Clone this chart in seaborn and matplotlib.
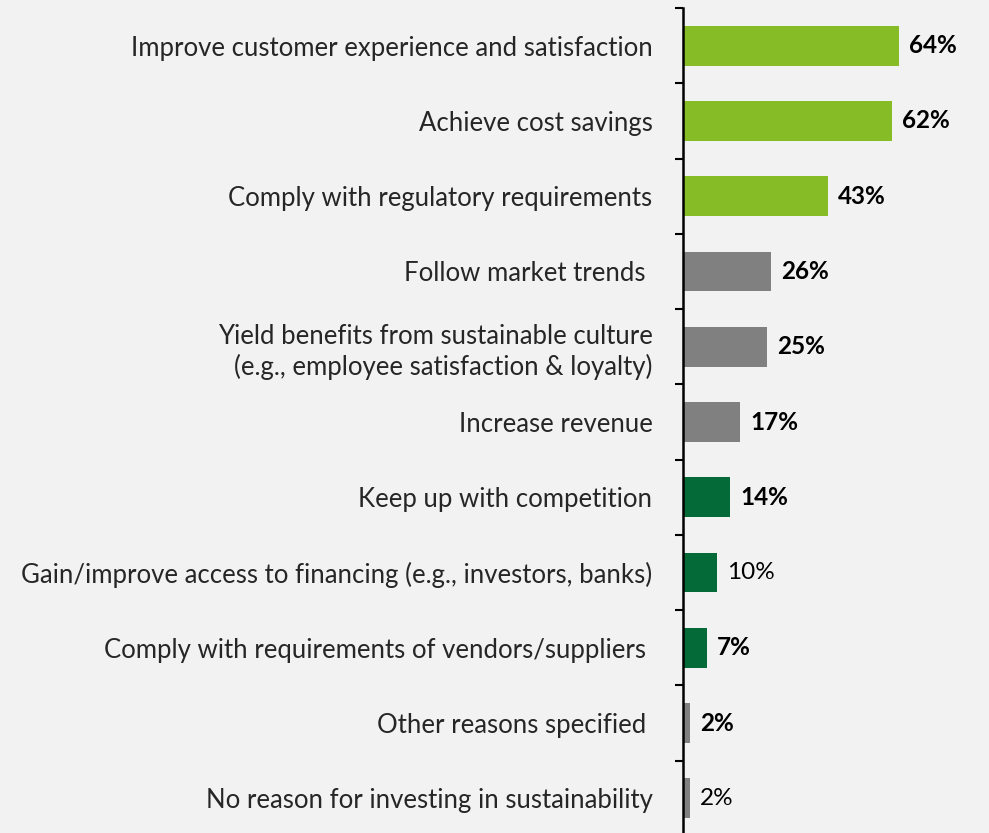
import numpy as np
import pandas as pd
import seaborn as sns
import matplotlib.pyplot as plt

# Data
reasons = [
    "Improve customer experience and satisfaction",
    "Achieve cost savings",
    "Comply with regulatory requirements",
    "Follow market trends ",
    "Yield benefits from sustainable culture\n(e.g., employee satisfaction & loyalty)",
    "Increase revenue",
    "Keep up with competition",
    "Gain/improve access to financing (e.g., investors, banks)",
    "Comply with requirements of vendors/suppliers ",
    "Other reasons specified ",
    "No reason for investing in sustainability",
]
shares = [64, 62, 43, 26, 25, 17, 14, 10, 7, 2, 2]
bold_label = [True, True, True, True, True, True, True, False, True, True, False]

lime, grey, dark = "#86bc25", "#808080", "#046a38"
bar_colors = [lime, lime, lime, grey, grey, grey, dark, dark, dark, grey, grey]

df = pd.DataFrame({"reason": reasons, "share": shares})

sns.set_style("white")
plt.rcParams["font.family"] = ["Lato", "DejaVu Sans"]

fig = plt.figure(figsize=(9.89, 8.33), dpi=100)
fig.patch.set_facecolor("#f2f2f2")
ax = fig.add_axes([683 / 989, -3 / 833, 306 / 989, 828 / 833])
ax.set_facecolor("#f2f2f2")

sns.barplot(data=df, y="reason", x="share", hue="reason", palette=bar_colors,
            legend=False, width=0.53, saturation=1, linewidth=0, ax=ax, orient="h")

ax.set_xlim(0, 306 / 3.375)
ax.set_ylim(len(reasons) - 0.5, -0.5)
ax.set_xlabel("")
ax.set_ylabel("")
ax.set_xticks([])

# value labels
for i, (v, b) in enumerate(zip(shares, bold_label)):
    ax.text(v + 3.0, i, f"{v}%", va="center", ha="left", fontsize=17.5,
            fontweight="bold" if b else "normal", color="black")

# category labels at centres, tick marks at boundaries
ax.set_yticks(range(len(reasons)))
ax.set_yticklabels(reasons, fontsize=18.5, color="#262626", ha="right",
                   linespacing=1.25)
ax.tick_params(axis="y", which="major", left=False, length=0, pad=22)
ax.set_yticks(np.arange(-0.5, len(reasons), 1), minor=True)
ax.tick_params(axis="y", which="minor", left=True, length=6, width=1.5,
               color="black", direction="out")

for s in ["top", "right", "bottom"]:
    ax.spines[s].set_visible(False)
ax.spines["left"].set_color("black")
ax.spines["left"].set_linewidth(1.8)

plt.savefig("out.png", dpi=100, facecolor=fig.get_facecolor())
